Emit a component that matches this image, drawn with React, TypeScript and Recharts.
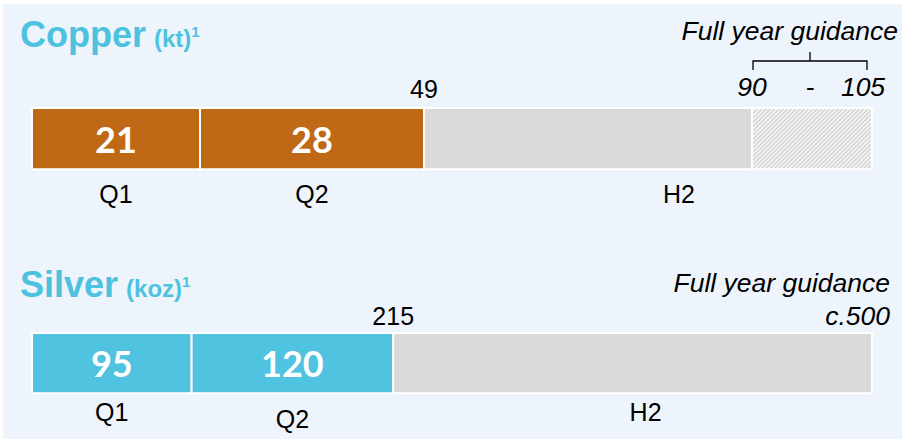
import React from 'react';
import { BarChart, Bar, XAxis, YAxis, LabelList } from 'recharts';

// ---- data ----
const periods = ['Q1', 'Q2', 'H2'];
const copperQuarters = [21, 28];
const copperH1 = 49;
const copperGuidance = [90, 105];
const silverQuarters = [95, 120];
const silverH1 = 215;
const silverGuidance = 500;
const guidanceTitle = 'Full year guidance';
const silverGuidanceLabel = 'c.500';

const copperData = [
  {
    name: 'Copper',
    Q1: copperQuarters[0],
    Q2: copperQuarters[1],
    H2: copperGuidance[0] - copperH1,
    range: copperGuidance[1] - copperGuidance[0],
  },
];
const silverData = [
  {
    name: 'Silver',
    Q1: silverQuarters[0],
    Q2: silverQuarters[1],
    H2: silverGuidance - silverH1,
  },
];

// ---- styles ----
const COPPER = '#BF6916';
const SILVER = '#4FC3DF';
const GREY = '#D9D9D9';
const TITLE = '#4CC2DF';
const BG = '#EEF4FC';
const SANS = '"Liberation Sans", Arial, sans-serif';
const NUM = 'Lato, "Open Sans", sans-serif';
const IT = 26.5;

const inside = (props: any) => {
  const { x, y, width, height, value } = props;
  return (
    <text x={x + width / 2} y={y + height / 2 + 14} textAnchor="middle" fill="#fff"
      fontFamily={NUM} fontWeight={700} fontSize={36}>{value}</text>
  );
};

const below = (text: string, dx: number, dy: number) => (props: any) => {
  const { x, y, width, height } = props;
  return (
    <text x={x + width / 2 + dx} y={y + height + dy} textAnchor="middle" fill="#000"
      fontFamily={SANS} fontSize={25}>{text}</text>
  );
};

const total = (value: number, dy: number) => (props: any) => {
  const { x, y, width } = props;
  return (
    <text x={x + width} y={y - dy} textAnchor="middle" fill="#000"
      fontFamily={SANS} fontSize={25}>{value}</text>
  );
};

const copperRange = (props: any) => {
  const { x, y, width } = props;
  const left = x + 1;
  const right = x + width - 5;
  const mid = (left + right) / 2;
  const by = y - 47;
  return (
    <g>
      <path d={`M${left},${by + 9} L${left},${by} L${right},${by} L${right},${by + 9} M${mid},${by} L${mid},${by - 9}`}
        stroke="#000" strokeWidth={1.3} fill="none" />
      <text x={x} y={y - 12} textAnchor="middle" fontFamily={SANS} fontStyle="italic" fontSize={IT}>{copperGuidance[0]}</text>
      <text x={mid} y={y - 12} textAnchor="middle" fontFamily={SANS} fontStyle="italic" fontSize={IT}>-</text>
      <text x={x + width - 9} y={y - 12} textAnchor="middle" fontFamily={SANS} fontStyle="italic" fontSize={IT}>{copperGuidance[1]}</text>
      <text x={x + width + 26} y={y - 68} textAnchor="end" fontFamily={SANS} fontStyle="italic" fontSize={IT}>{guidanceTitle}</text>
    </g>
  );
};

const silverRange = (props: any) => {
  const { x, y, width } = props;
  return (
    <g>
      <text x={x + width + 18} y={y - 8} textAnchor="end" fontFamily={SANS} fontStyle="italic" fontSize={IT}>{silverGuidanceLabel}</text>
      <text x={x + width + 18} y={y - 41} textAnchor="end" fontFamily={SANS} fontStyle="italic" fontSize={IT}>{guidanceTitle}</text>
    </g>
  );
};

export default function App() {
  return (
    <div style={{ position: 'absolute', left: 0, top: 0, width: 914, height: 443, background: '#fff', overflow: 'hidden' }}>
      <div style={{ position: 'absolute', left: 3, top: 4, width: 899, height: 435, background: BG }} />
      <svg width={914} height={443} style={{ position: 'absolute', left: 0, top: 0 }}>
        <defs>
          <pattern id="hatch" width="3" height="3" patternUnits="userSpaceOnUse" patternTransform="rotate(45)">
            <rect width="3" height="3" fill="#fff" />
            <rect width="1.7" height="3" fill="#D2D2D2" />
          </pattern>
        </defs>
        <text x={20} y={47} fill={TITLE} fontFamily={SANS} fontWeight={700}>
          <tspan fontSize={36}>Copper</tspan>
          <tspan fontSize={24} dx={8}>(kt)</tspan>
          <tspan fontSize={15} dy={-10}>1</tspan>
        </text>
        <text x={20} y={297} fill={TITLE} fontFamily={SANS} fontWeight={700}>
          <tspan fontSize={36}>Silver</tspan>
          <tspan fontSize={24} dx={8}>(koz)</tspan>
          <tspan fontSize={15} dy={-10}>1</tspan>
        </text>
      </svg>

      <div style={{ position: 'absolute', left: 0, top: 0 }}>
        <BarChart width={914} height={220} data={copperData} layout="vertical"
          margin={{ top: 105, bottom: 47, left: 32, right: 42 }} barCategoryGap={0}>
          <XAxis type="number" domain={[0, copperGuidance[1]]} hide />
          <YAxis type="category" dataKey="name" hide />
          <Bar dataKey="Q1" stackId="a" fill={COPPER} stroke="#fff" strokeWidth={2} barSize={68} isAnimationActive={false}>
            <LabelList dataKey="Q1" content={inside} />
            <LabelList dataKey="Q1" content={below(periods[0], 0, 34)} />
          </Bar>
          <Bar dataKey="Q2" stackId="a" fill={COPPER} stroke="#fff" strokeWidth={2} barSize={68} isAnimationActive={false}>
            <LabelList dataKey="Q2" content={inside} />
            <LabelList dataKey="Q2" content={below(periods[1], 0, 34)} />
            <LabelList dataKey="Q2" content={total(copperH1, 10)} />
          </Bar>
          <Bar dataKey="H2" stackId="a" fill={GREY} stroke="#fff" strokeWidth={2} barSize={68} isAnimationActive={false}>
            <LabelList dataKey="H2" content={below(periods[2], 91, 34)} />
          </Bar>
          <Bar dataKey="range" stackId="a" fill="url(#hatch)" stroke="#fff" strokeWidth={2} barSize={68} isAnimationActive={false}>
            <LabelList dataKey="range" content={copperRange} />
          </Bar>
        </BarChart>
      </div>

      <div style={{ position: 'absolute', left: 0, top: 230 }}>
        <BarChart width={914} height={213} data={silverData} layout="vertical"
          margin={{ top: 100, bottom: 46, left: 32, right: 42 }} barCategoryGap={0}>
          <XAxis type="number" domain={[0, silverGuidance]} hide />
          <YAxis type="category" dataKey="name" hide />
          <Bar dataKey="Q1" stackId="a" fill={SILVER} stroke="#fff" strokeWidth={2} barSize={67} isAnimationActive={false}>
            <LabelList dataKey="Q1" content={inside} />
            <LabelList dataKey="Q1" content={below(periods[0], 0, 28)} />
          </Bar>
          <Bar dataKey="Q2" stackId="a" fill={SILVER} stroke="#fff" strokeWidth={2} barSize={67} isAnimationActive={false}>
            <LabelList dataKey="Q2" content={inside} />
            <LabelList dataKey="Q2" content={below(periods[1], 0, 35)} />
            <LabelList dataKey="Q2" content={total(silverH1, 8)} />
          </Bar>
          <Bar dataKey="H2" stackId="a" fill={GREY} stroke="#fff" strokeWidth={2} barSize={67} isAnimationActive={false}>
            <LabelList dataKey="H2" content={below(periods[2], 13, 28)} />
            <LabelList dataKey="H2" content={silverRange} />
          </Bar>
        </BarChart>
      </div>
    </div>
  );
}
